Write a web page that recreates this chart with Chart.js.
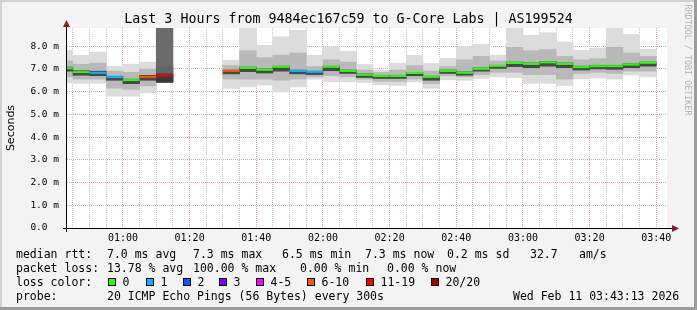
<!DOCTYPE html>
<html>
<head>
<meta charset="utf-8">
<script src="https://cdn.jsdelivr.net/npm/chart.js@4.4.1/dist/chart.umd.min.js"></script>
<style>
  html, body { margin: 0; padding: 0; background: #f3f3f3; }
  #wrap { position: relative; width: 697px; height: 310px; overflow: hidden; }
  #wrap canvas { position: absolute; left: 0; top: 0; }
  .t { position: absolute; font-family: "DejaVu Sans Mono", monospace; font-size: 11.5px; line-height: 14px; color: #000; white-space: pre; }
  .box { position: absolute; width: 6px; height: 6px; border: 1px solid #000; }
  #title { left: 0; width: 697px; top: 11px; text-align: center; font-size: 13.3px; line-height: 16px; }
  #ylab { left: -29px; top: 121px; width: 80px; text-align: center; font-family: "DejaVu Sans", sans-serif; font-size: 11px; transform: rotate(-90deg); }
  #rrd { left: 628px; top: 55px; width: 120px; text-align: center; font-size: 8.4px; line-height: 10px; color: #b4b4b4; transform: rotate(90deg); }
</style>
</head>
<body>
<div id="wrap">
  <canvas id="chart" width="697" height="310"></canvas>
  <div class="t" id="title">Last 3 Hours from 9484ec167c59 to G-Core Labs | AS199524</div>
  <div class="t" id="ylab">Seconds</div>
  <div class="t" id="rrd">RRDTOOL / TOBI OETIKER</div>
</div>
<script>
// 5-minute slots (start time), one smoke bar + median per slot
const slotStart = ["00:40","00:45","00:50","00:55","01:00","01:05","01:10","01:15","01:20","01:25",
  "01:30","01:35","01:40","01:45","01:50","01:55","02:00","02:05","02:10","02:15",
  "02:20","02:25","02:30","02:35","02:40","02:45","02:50","02:55","03:00","03:05",
  "03:10","03:15","03:20","03:25","03:30","03:35"];
const medianMs = [7.03,6.86,6.83,6.64,6.51,6.65,6.71,null,null,null,
  6.91,7.04,6.96,7.09,6.91,6.87,7.09,6.91,6.74,6.69,
  6.69,6.82,6.65,6.91,6.83,7.00,7.13,7.26,7.22,7.29,
  7.22,7.08,7.12,7.12,7.19,7.27];
const lossBand = ["0","0","1","1","0","6-10","11-19",null,null,null,
  "6-10","0","0","0","1","1","0","0","0","0",
  "0","0","0","0","0","0","0","0","0","0",
  "0","0","0","0","0","0"];
const smokeMin = [6.39,6.36,6.37,5.80,5.80,5.95,6.39,null,null,null,
  6.14,6.21,6.29,5.99,6.21,6.55,6.43,6.43,6.40,6.30,
  6.27,6.43,6.15,6.52,6.50,6.58,6.65,6.62,6.36,6.36,
  6.27,6.56,6.60,6.55,6.73,6.65];
const smokeMax = [7.82,7.60,7.74,7.12,7.21,7.30,9.00,null,null,null,
  7.38,8.90,8.04,8.41,8.70,7.60,7.97,7.78,7.20,6.95,
  7.25,7.60,7.24,7.47,7.97,8.08,7.60,8.90,8.48,8.59,
  8.19,7.82,7.91,8.90,8.52,7.86];
const smokeMidLo = [6.65,6.55,6.55,6.15,6.10,6.25,6.45,null,null,null,
  6.55,6.55,6.55,6.50,6.55,6.65,6.70,6.65,6.55,6.45,
  6.45,6.55,6.35,6.70,6.65,6.75,6.85,6.85,6.75,6.75,
  6.55,6.80,6.85,6.80,6.90,6.90];
const smokeMidHi = [7.35,7.20,7.25,6.90,6.85,7.00,7.10,null,null,null,
  7.15,7.80,7.50,7.60,7.70,7.10,7.40,7.30,6.95,6.85,
  6.95,7.15,6.90,7.10,7.40,7.55,7.35,7.95,7.80,7.85,
  7.55,7.40,7.45,7.95,7.70,7.55];
const smokeCoreLo = [6.90,6.72,6.70,6.50,6.35,6.50,6.42,null,null,null,
  6.78,6.88,6.82,6.90,6.78,6.75,6.92,6.80,6.62,6.58,
  6.58,6.70,6.50,6.80,6.72,6.90,7.02,7.10,7.05,7.12,
  7.05,6.95,7.00,6.98,7.05,7.12];
const smokeCoreHi = [7.08,6.92,6.90,6.68,6.55,6.72,6.78,null,null,null,
  6.95,7.08,7.00,7.12,6.95,6.90,7.12,6.95,6.78,6.72,
  6.72,6.85,6.68,6.95,6.87,7.04,7.16,7.30,7.26,7.33,
  7.26,7.12,7.16,7.16,7.22,7.30];

const lossLabels = ["0","1","2","3","4-5","6-10","11-19","20/20"];
const lossColors = ["#26ff00","#00b8ff","#0059ff","#7e00ff","#ff00ff","#ff5500","#ff0000","#a10000"];

const yTickValues = [0,0.5,1,1.5,2,2.5,3,3.5,4,4.5,5,5.5,6,6.5,7,7.5,8,8.5];
const xTickMinutes = [];
for (let m = 45; m <= 220; m += 5) xTickMinutes.push(m);

const toMin = (s) => { const p = s.split(":"); return +p[0] * 60 + +p[1]; };
const fmtMin = (m) => String(Math.floor(m / 60)).padStart(2, "0") + ":" + String(m % 60).padStart(2, "0");
const colorOf = (band) => lossColors[lossLabels.indexOf(band)];
const heavy = (i) => lossBand[i] === "11-19" || lossBand[i] === "20/20";

function floating(lo, hi) {
  const out = [];
  slotStart.forEach((s, i) => {
    if (lo[i] == null) return;
    out.push({ x: toMin(s) + 2.5, y: [lo[i], hi[i]], i: i });
  });
  return out;
}

// median: one horizontal step per slot, broken between slots
const medPoints = [];
const medColors = [];
slotStart.forEach((s, i) => {
  if (medianMs[i] == null) return;
  const t = toMin(s);
  medPoints.push({ x: t, y: medianMs[i] }, { x: t + 5, y: medianMs[i] }, { x: t + 5, y: null });
  medColors.push(colorOf(lossBand[i]), colorOf(lossBand[i]), null);
});

const frame = {
  id: "frame",
  beforeDraw(chart) {
    const { ctx, chartArea: a, width, height } = chart;
    ctx.save();
    ctx.fillStyle = "#f3f3f3";
    ctx.fillRect(0, 0, width, height);
    ctx.fillStyle = "#d2d2d2";
    ctx.fillRect(0, 0, width, 2);
    ctx.fillRect(0, 0, 2, height);
    ctx.fillStyle = "#9c9c9c";
    ctx.fillRect(0, height - 3, width, 3);
    ctx.fillRect(width - 3, 0, 3, height);
    ctx.fillStyle = "#ffffff";
    ctx.fillRect(a.left, a.top, a.right - a.left, a.bottom - a.top);
    ctx.restore();
  },
  afterDatasetsDraw(chart) {
    const { ctx, chartArea: a } = chart;
    ctx.save();
    ctx.strokeStyle = "#000";
    ctx.lineWidth = 1;
    ctx.beginPath();
    ctx.moveTo(a.left - 4, a.bottom + 0.5);
    ctx.lineTo(a.right + 6, a.bottom + 0.5);
    ctx.moveTo(a.left - 0.5, a.bottom + 4);
    ctx.lineTo(a.left - 0.5, a.top - 4);
    ctx.stroke();
    ctx.fillStyle = "#8e1b1b";
    ctx.beginPath();
    ctx.moveTo(a.left - 0.5, a.top - 8);
    ctx.lineTo(a.left - 4, a.top - 1);
    ctx.lineTo(a.left + 3, a.top - 1);
    ctx.closePath();
    ctx.fill();
    ctx.beginPath();
    ctx.moveTo(a.right + 12, a.bottom + 0.5);
    ctx.lineTo(a.right + 5, a.bottom - 3);
    ctx.lineTo(a.right + 5, a.bottom + 4);
    ctx.closePath();
    ctx.fill();
    ctx.restore();
  }
};

const mono = "'DejaVu Sans Mono', monospace";

new Chart(document.getElementById("chart"), {
  type: "bar",
  data: {
    datasets: [
      {
        type: "line",
        data: medPoints,
        borderWidth: 2,
        borderCapStyle: "butt",
        pointRadius: 0,
        spanGaps: false,
        clip: 0,
        order: 0,
        segment: { borderColor: (c) => medColors[c.p0DataIndex] || "rgba(0,0,0,0)" }
      },
      {
        data: floating(smokeCoreLo, smokeCoreHi),
        backgroundColor: (c) => (heavy(c.raw.i) ? "#3a3a3a" : "#484848"),
        clip: 0, order: 1
      },
      {
        data: floating(smokeMidLo, smokeMidHi),
        backgroundColor: (c) => (heavy(c.raw.i) ? "#646464" : "#b9b9b9"),
        clip: 0, order: 2
      },
      {
        data: floating(smokeMin, smokeMax),
        backgroundColor: (c) => (heavy(c.raw.i) ? "#6b6b6b" : "#dcdcdc"),
        clip: 0, order: 3
      }
    ]
  },
  options: {
    responsive: false,
    animation: false,
    events: [],
    layout: { padding: { left: 0, top: 28, right: 30, bottom: 0 } },
    datasets: { bar: { grouped: false, barPercentage: 1, categoryPercentage: 1, borderWidth: 0 } },
    plugins: { legend: { display: false }, tooltip: { enabled: false } },
    scales: {
      x: {
        type: "linear",
        min: 43 + 13 / 60,
        max: 223 + 13 / 60,
        offset: false,
        afterBuildTicks: (s) => { s.ticks = xTickMinutes.map((v) => ({ value: v })); },
        afterFit: (s) => { s.height = 82; },
        ticks: {
          autoSkip: false, maxRotation: 0, padding: 4, color: "#000",
          font: { family: mono, size: 10 },
          callback: (v) => (v % 20 === 0 ? fmtMin(v) : "")
        },
        grid: {
          offset: false, drawTicks: false, lineWidth: 1,
          color: (c) => (c.tick && c.tick.value % 20 === 0 ? "#eba3a3" : "#c6c6c6")
        },
        border: { display: false, dash: [1, 1] }
      },
      y: {
        min: 0,
        max: 8.8,
        afterBuildTicks: (s) => { s.ticks = yTickValues.map((v) => ({ value: v })); },
        afterFit: (s) => { s.width = 67; },
        ticks: {
          padding: 8, color: "#000",
          font: { family: mono, size: 9.5 },
          callback: (v) => (Number.isInteger(v) ? (v === 0 ? "0.0  " : v.toFixed(1) + " m") : "")
        },
        grid: {
          drawTicks: false, lineWidth: 1,
          color: (c) => {
            if (!c.tick || c.tick.value === 0) return "rgba(0,0,0,0)";
            return Number.isInteger(c.tick.value) ? "#eba3a3" : "#c6c6c6";
          }
        },
        border: { display: false, dash: [1, 1] }
      }
    }
  },
  plugins: [frame]
});

// text legend below the graph
const statLines = [
  { y: 254, parts: [[16, "median rtt:"], [107, "7.0 ms avg"], [193, "7.3 ms max"], [282, "6.5 ms min"], [365, "7.3 ms now"], [447, "0.2 ms sd"], [530, "32.7"], [579, "am/s"]] },
  { y: 268, parts: [[16, "packet loss:"], [107, "13.78 % avg"], [193, "100.00 % max"], [300, "0.00 % min"], [387, "0.00 % now"]] },
  { y: 282, parts: [[16, "loss color:"]] },
  { y: 296, parts: [[16, "probe:"], [107, "20 ICMP Echo Pings (56 Bytes) every 300s"], [513, "Wed Feb 11 03:43:13 2026"]] }
];
const lossBoxX = [108, 146, 183, 219, 256, 307, 366, 431];

const wrap = document.getElementById("wrap");
statLines.forEach((line) => {
  line.parts.forEach(([x, txt]) => {
    const d = document.createElement("div");
    d.className = "t";
    d.style.left = x + "px";
    d.style.top = (line.y - 7) + "px";
    d.textContent = txt;
    wrap.appendChild(d);
  });
});
lossLabels.forEach((lbl, k) => {
  const b = document.createElement("div");
  b.className = "box";
  b.style.left = lossBoxX[k] + "px";
  b.style.top = "278px";
  b.style.background = lossColors[k];
  wrap.appendChild(b);
  const d = document.createElement("div");
  d.className = "t";
  d.style.left = (lossBoxX[k] + 14.5) + "px";
  d.style.top = (282 - 7) + "px";
  d.textContent = lbl;
  wrap.appendChild(d);
});
</script>
</body>
</html>
